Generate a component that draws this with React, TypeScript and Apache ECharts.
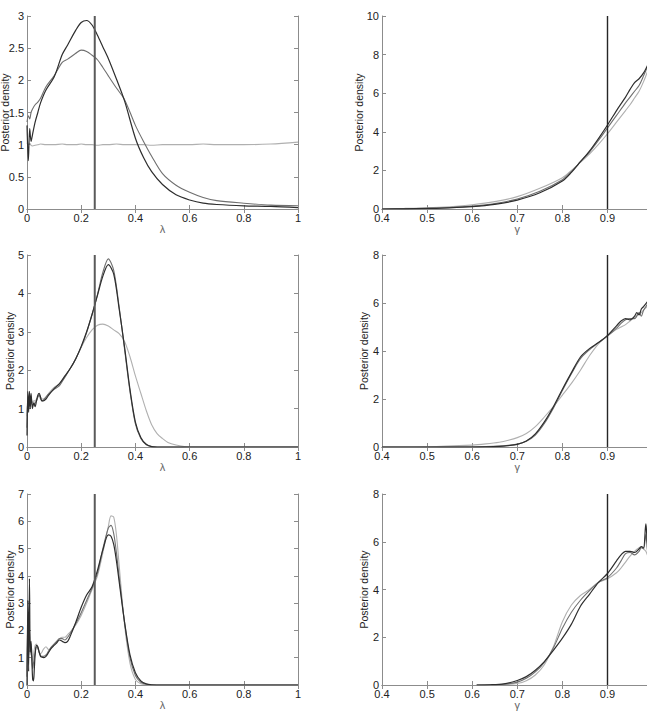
import React, { useEffect, useRef } from "react";
import * as echarts from "echarts";

// ---------- Panel 1 : lambda, top ----------
const lam1X = [0, 0.005, 0.01, 0.015, 0.02, 0.03, 0.04, 0.05, 0.07, 0.1, 0.13, 0.15, 0.18, 0.2, 0.22, 0.24, 0.26, 0.28, 0.3, 0.33, 0.36, 0.4, 0.43, 0.46, 0.5, 0.55, 0.6, 0.65, 0.7, 0.8, 0.9, 1.0];
const lam1Dark = [1.3, 0.75, 1.25, 1.05, 1.15, 1.35, 1.5, 1.65, 1.85, 2.05, 2.4, 2.55, 2.78, 2.9, 2.93, 2.86, 2.7, 2.52, 2.34, 2.02, 1.68, 1.1, 0.8, 0.58, 0.38, 0.22, 0.14, 0.09, 0.07, 0.05, 0.04, 0.02];
const lam1Mid = [1.35, 1.45, 1.4, 1.5, 1.55, 1.62, 1.66, 1.72, 1.9, 2.07, 2.28, 2.33, 2.42, 2.47, 2.45, 2.39, 2.32, 2.2, 2.07, 1.88, 1.7, 1.3, 1.05, 0.82, 0.55, 0.37, 0.26, 0.18, 0.13, 0.09, 0.06, 0.05];
const lam1Light = [1.03, 1.0, 1.02, 0.99, 0.98, 0.99, 1.0, 1.01, 1.0, 1.0, 1.01, 1.0, 1.0, 1.01, 1.0, 1.0, 0.99, 1.0, 1.0, 1.01, 1.0, 1.0, 1.0, 0.99, 1.0, 1.0, 1.0, 1.01, 1.0, 1.0, 1.01, 1.04];

// ---------- Panel 2 : gamma, top ----------
const gam1X = [0.4, 0.45, 0.5, 0.55, 0.6, 0.65, 0.7, 0.75, 0.8, 0.82, 0.84, 0.86, 0.88, 0.9, 0.92, 0.94, 0.95, 0.96, 0.97, 0.98, 0.99, 1.0];
const gam1Dark = [0.0, 0.01, 0.03, 0.06, 0.12, 0.24, 0.46, 0.84, 1.45, 1.9, 2.45, 3.0, 3.65, 4.35, 5.1, 5.8, 6.2, 6.55, 6.75, 7.05, 7.5, 8.0];
const gam1Mid = [0.0, 0.02, 0.04, 0.08, 0.15, 0.28, 0.52, 0.92, 1.52, 1.95, 2.45, 2.95, 3.55, 4.2, 4.85, 5.5, 5.8, 6.1, 6.4, 6.9, 7.45, 8.0];
const gam1Light = [0.01, 0.03, 0.06, 0.12, 0.22, 0.38, 0.64, 1.07, 1.62, 2.0, 2.42, 2.85, 3.35, 3.9, 4.5, 5.1, 5.4, 5.75, 6.1, 6.6, 7.2, 7.8];

// ---------- Panel 3 : lambda, middle ----------
const lam2X = [0, 0.003, 0.006, 0.009, 0.012, 0.015, 0.02, 0.025, 0.03, 0.035, 0.04, 0.045, 0.05, 0.055, 0.06, 0.07, 0.08, 0.1, 0.12, 0.14, 0.16, 0.18, 0.2, 0.22, 0.24, 0.26, 0.28, 0.3, 0.32, 0.34, 0.36, 0.38, 0.4, 0.42, 0.44, 0.46, 0.48, 0.5, 0.52, 0.55, 0.58, 0.6, 1.0];
const lam2Dark = [0.3, 1.45, 0.9, 1.45, 1.0, 1.4, 1.0, 1.15, 1.05, 1.2, 1.35, 1.4, 1.3, 1.2, 1.2, 1.25, 1.35, 1.52, 1.65, 1.85, 2.05, 2.3, 2.62, 3.0, 3.45, 3.95, 4.45, 4.75, 4.5, 3.6, 2.6, 1.5, 0.65, 0.25, 0.07, 0.01, 0, 0, 0, 0, 0, 0, 0];
const lam2Mid = [0.5, 1.3, 1.0, 1.3, 1.1, 1.3, 1.1, 1.1, 1.15, 1.2, 1.3, 1.35, 1.25, 1.2, 1.22, 1.3, 1.38, 1.5, 1.6, 1.82, 2.05, 2.3, 2.6, 2.98, 3.45, 3.97, 4.55, 4.9, 4.6, 3.65, 2.55, 1.45, 0.6, 0.22, 0.06, 0.01, 0, 0, 0, 0, 0, 0, 0];
const lam2Light = [0.8, 1.2, 1.1, 1.25, 1.15, 1.3, 1.15, 1.2, 1.2, 1.25, 1.3, 1.35, 1.3, 1.25, 1.25, 1.3, 1.4, 1.55, 1.65, 1.85, 2.05, 2.3, 2.6, 2.85, 3.05, 3.17, 3.2, 3.15, 3.05, 2.95, 2.75, 2.35, 1.85, 1.4, 0.95, 0.58, 0.35, 0.22, 0.12, 0.05, 0.01, 0, 0];

// ---------- Panel 4 : gamma, middle ----------
const gam2X = [0.4, 0.5, 0.6, 0.63, 0.66, 0.68, 0.7, 0.72, 0.74, 0.76, 0.78, 0.8, 0.82, 0.84, 0.86, 0.88, 0.9, 0.92, 0.93, 0.94, 0.95, 0.96, 0.965, 0.97, 0.975, 0.98, 0.99, 1.0];
const gam2Dark = [0, 0, 0, 0.01, 0.03, 0.06, 0.11, 0.25, 0.55, 1.05, 1.68, 2.41, 3.1, 3.75, 4.1, 4.35, 4.65, 5.05, 5.25, 5.35, 5.3, 5.45, 5.6, 5.5, 5.75, 5.85, 6.1, 6.5];
const gam2Mid = [0, 0, 0.01, 0.02, 0.04, 0.07, 0.12, 0.24, 0.5, 0.98, 1.62, 2.35, 3.05, 3.68, 4.05, 4.35, 4.62, 4.95, 5.15, 5.3, 5.35, 5.35, 5.45, 5.6, 5.45, 5.7, 6.0, 6.4];
const gam2Light = [0, 0.01, 0.08, 0.13, 0.2, 0.28, 0.39, 0.56, 0.85, 1.25, 1.68, 2.16, 2.65, 3.2, 3.8, 4.3, 4.63, 4.9, 5.0, 5.1, 5.25, 5.4, 5.5, 5.55, 5.6, 5.7, 5.9, 6.2];

// ---------- Panel 5 : lambda, bottom ----------
const lam3X = [0, 0.003, 0.006, 0.009, 0.012, 0.015, 0.018, 0.021, 0.024, 0.027, 0.03, 0.035, 0.04, 0.045, 0.05, 0.055, 0.06, 0.07, 0.08, 0.09, 0.1, 0.11, 0.12, 0.13, 0.14, 0.15, 0.16, 0.18, 0.2, 0.22, 0.24, 0.26, 0.28, 0.3, 0.31, 0.32, 0.33, 0.34, 0.36, 0.38, 0.4, 0.42, 0.44, 0.46, 0.5, 1.0];
const lam3Dark = [0, 3.1, 0.5, 3.9, 1.2, 1.6, 0.9, 0.2, 0.15, 0.6, 1.1, 1.45, 1.4, 1.2, 1.05, 1.02, 1.0, 1.05, 1.2, 1.35, 1.45, 1.55, 1.65, 1.6, 1.55, 1.6, 1.8, 2.3, 2.85, 3.3, 3.6, 4.2, 4.95, 5.5, 5.45, 5.15, 4.55, 3.8, 2.3, 1.1, 0.45, 0.15, 0.04, 0.01, 0, 0];
const lam3Mid = [0.3, 2.5, 1.0, 2.0, 1.4, 1.2, 1.0, 0.6, 0.8, 1.0, 1.2, 1.4, 1.35, 1.2, 1.08, 1.05, 1.05, 1.1, 1.25, 1.4, 1.5, 1.6, 1.7, 1.7, 1.65, 1.75, 1.9, 2.25, 2.65, 3.1, 3.55, 4.1, 5.0, 5.75, 5.85, 5.55, 4.85, 3.95, 2.3, 1.0, 0.35, 0.1, 0.03, 0, 0, 0];
const lam3Light = [0.5, 1.8, 1.2, 1.6, 1.1, 1.5, 1.2, 0.9, 1.1, 1.3, 1.45, 1.5, 1.35, 1.2, 1.15, 1.2, 1.3, 1.4, 1.3, 1.35, 1.5, 1.6, 1.7, 1.75, 1.75, 1.85, 1.95, 2.2, 2.55, 3.0, 3.5, 4.0, 4.85, 5.8, 6.2, 6.15, 5.5, 4.4, 2.2, 0.8, 0.2, 0.05, 0.01, 0, 0, 0];

// ---------- Panel 6 : gamma, bottom ----------
const gam3X = [0.61, 0.64, 0.67, 0.7, 0.72, 0.74, 0.76, 0.78, 0.8, 0.82, 0.84, 0.86, 0.88, 0.9, 0.92, 0.93, 0.94, 0.95, 0.96, 0.97, 0.975, 0.98, 0.985, 0.99, 1.0];
const gam3Dark = [0, 0.01, 0.05, 0.19, 0.35, 0.62, 0.98, 1.45, 1.96, 2.55, 3.3, 3.8, 4.3, 4.67, 5.2, 5.45, 5.6, 5.6, 5.55, 5.7, 5.8, 5.75, 6.75, 5.8, 5.6];
const gam3Mid = [0, 0.01, 0.03, 0.12, 0.28, 0.55, 0.95, 1.55, 2.38, 3.05, 3.55, 3.95, 4.3, 4.5, 4.9, 5.2, 5.5, 5.55, 5.45, 5.6, 5.75, 5.7, 6.3, 5.5, 5.4];
const gam3Light = [0, 0, 0.01, 0.06, 0.18, 0.42, 0.85, 1.6, 2.65, 3.35, 3.75, 4.0, 4.3, 4.45, 4.7, 4.9, 5.15, 5.4, 5.6, 5.75, 5.8, 5.7, 5.6, 5.4, 5.3];

// reference (true) values marked by vertical lines
const trueLambda = 0.25;
const trueGamma = 0.9;
const yMaxes = [3, 10, 5, 8, 7, 8];
const yIntervals = [0.5, 2, 1, 2, 1, 2];

const pair = (xs: number[], ys: number[]) => xs.map((x, i) => [x, ys[i]]);

const panels = [
  { xs: lam1X, d: lam1Dark, m: lam1Mid, l: lam1Light, kind: "lambda" },
  { xs: gam1X, d: gam1Dark, m: gam1Mid, l: gam1Light, kind: "gamma" },
  { xs: lam2X, d: lam2Dark, m: lam2Mid, l: lam2Light, kind: "lambda" },
  { xs: gam2X, d: gam2Dark, m: gam2Mid, l: gam2Light, kind: "gamma" },
  { xs: lam3X, d: lam3Dark, m: lam3Mid, l: lam3Light, kind: "lambda" },
  { xs: gam3X, d: gam3Dark, m: gam3Mid, l: gam3Light, kind: "gamma" },
];

const FONT = "'Liberation Sans', Arial, Helvetica, sans-serif";
const fmt = (v: number) => String(parseFloat(v.toFixed(2)));

export default function App() {
  const ref = useRef<HTMLDivElement>(null);
  useEffect(() => {
    if (!ref.current) return;
    const chart = echarts.init(ref.current, undefined, { renderer: "svg" });
    const rowTops = [16, 255, 494];
    const rowHeights = [193, 192, 191];
    const yNameGaps = [16.5, 18, 12, 13, 12, 13];
    const grids: any[] = [];
    const xAxes: any[] = [];
    const yAxes: any[] = [];
    const series: any[] = [];
    const frame = "#8c8c8c";
    panels.forEach((p, i) => {
      const row = Math.floor(i / 2);
      const isLam = p.kind === "lambda";
      grids.push({
        left: isLam ? 27 : 382,
        top: rowTops[row],
        width: isLam ? 271 : 270.6,
        height: rowHeights[row],
        containLabel: false,
        outerBoundsMode: "none",
      });
      const xmin = isLam ? 0 : 0.4;
      const xint = isLam ? 0.2 : 0.1;
      const common = {
        type: "value",
        gridIndex: i,
        min: xmin,
        max: 1,
        interval: xint,
        splitLine: { show: false },
        axisLine: { show: true, lineStyle: { color: frame, width: 1 } },
        axisTick: { show: true, inside: true, length: 4, lineStyle: { color: frame } },
      };
      xAxes.push({
        ...common,
        position: "bottom",
        name: isLam ? "λ" : "γ",
        nameLocation: "middle",
        nameGap: 14,
        nameMoveOverlap: false,
        nameTextStyle: { color: "#666", fontSize: 11, fontFamily: FONT },
        axisLabel: {
          show: true,
          margin: 3,
          color: "#222",
          fontSize: 11,
          fontFamily: FONT,
          formatter: fmt,
          showMaxLabel: isLam,
        },
      });
      xAxes.push({ ...common, position: "top", axisLabel: { show: false } });
      const ycommon = {
        type: "value",
        gridIndex: i,
        min: 0,
        max: yMaxes[i],
        interval: yIntervals[i],
        splitLine: { show: false },
        axisLine: { show: true, onZero: false, lineStyle: { color: frame, width: 1 } },
        axisTick: { show: true, inside: true, length: 4, lineStyle: { color: frame } },
      };
      yAxes.push({
        ...ycommon,
        position: "left",
        name: "Posterior density",
        nameLocation: "middle",
        nameGap: yNameGaps[i],
        nameMoveOverlap: false,
        nameTextStyle: { color: "#222", fontSize: 10.5, fontFamily: FONT },
        axisLabel: { show: true, margin: 3, color: "#222", fontSize: 11, fontFamily: FONT, formatter: fmt },
      });
      yAxes.push({ ...ycommon, position: "right", axisLabel: { show: false } });
      const base = {
        type: "line",
        xAxisIndex: 2 * i,
        yAxisIndex: 2 * i,
        showSymbol: false,
        symbol: "none",
        smooth: 0.3,
        silent: true,
      };
      series.push({ ...base, data: pair(p.xs, p.l), lineStyle: { color: "#b0b0b0", width: 1.1 } });
      series.push({ ...base, data: pair(p.xs, p.m), lineStyle: { color: "#6f6f6f", width: 1.1 } });
      series.push({ ...base, data: pair(p.xs, p.d), lineStyle: { color: "#2e2e2e", width: 1.2 } });
      const tv = isLam ? trueLambda : trueGamma;
      series.push({
        ...base,
        smooth: false,
        data: [[tv, 0], [tv, yMaxes[i]]],
        lineStyle: isLam ? { color: "#5a5a5a", width: 2 } : { color: "#262626", width: 1.4 },
      });
    });
    chart.setOption({
      animation: false,
      backgroundColor: "#ffffff",
      grid: grids,
      xAxis: xAxes,
      yAxis: yAxes,
      series,
    });
    return () => chart.dispose();
  }, []);
  return (
    <div style={{ position: "fixed", left: 0, top: 0, width: 647, height: 716, overflow: "hidden", background: "#fff" }}>
      <div ref={ref} style={{ width: 660, height: 716 }} />
    </div>
  );
}
